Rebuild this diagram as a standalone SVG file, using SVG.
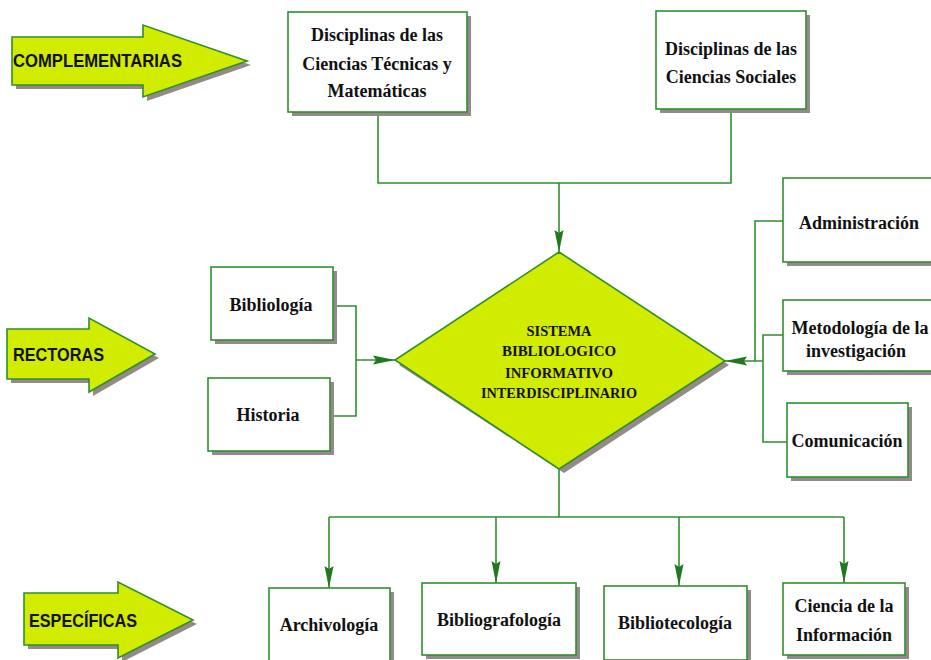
<svg xmlns="http://www.w3.org/2000/svg" width="931" height="660" viewBox="0 0 931 660">
  <defs>
    <style>
      .box { fill: #ffffff; stroke: #2f8f2f; stroke-width: 1.6; }
      .shadow { fill: #948a8a; }
      .big { fill: #d2ec00; stroke: #2f8f2f; stroke-width: 1.6; }
      .wire { fill: none; stroke: #2f8f2f; stroke-width: 1.6; }
      .lbl { font-family: "Liberation Serif", "Times New Roman", serif; font-weight: bold; font-size: 18px; fill: #111; text-anchor: middle; }
      .core { font-family: "Liberation Serif", "Times New Roman", serif; font-weight: bold; font-size: 15px; fill: #111; text-anchor: middle; }
      .tag { font-family: "Liberation Sans", Arial, sans-serif; font-weight: bold; font-size: 18px; fill: #111; }
    </style>
    <marker id="head" markerUnits="userSpaceOnUse" markerWidth="22" markerHeight="10" refX="22" refY="5" orient="auto">
      <path d="M0,0.5 L22,5 L0,9.5 L3,5 z" fill="#1f7a1f"/>
    </marker>
  </defs>

  <!-- category arrows -->
  <g id="arrow-complementarias">
    <path class="shadow" d="M16,41 H147 V29 L251,65 L147,101 V89 H16 z"/>
    <path class="big" d="M12,37 H143 V25 L247,61 L143,97 V85 H12 z"/>
    <text class="tag" x="13" y="67" textLength="169" lengthAdjust="spacingAndGlyphs">COMPLEMENTARIAS</text>
  </g>
  <g id="arrow-rectoras">
    <path class="shadow" d="M11,333 H93 V322 L159,358 L93,396 V383 H11 z"/>
    <path class="big" d="M7,329 H89 V318 L155,354 L89,392 V379 H7 z"/>
    <text class="tag" x="13" y="361" textLength="91" lengthAdjust="spacingAndGlyphs">RECTORAS</text>
  </g>
  <g id="arrow-especificas">
    <path class="shadow" d="M28,597 H122 V586 L197,624 L122,662 V649 H28 z"/>
    <path class="big" d="M24,593 H118 V582 L193,620 L118,658 V645 H24 z"/>
    <text class="tag" x="29" y="627" textLength="108" lengthAdjust="spacingAndGlyphs">ESPECÍFICAS</text>
  </g>

  <!-- connectors -->
  <g id="connectors">
    <path class="wire" d="M378,112 V183 H731 V109"/>
    <path class="wire" d="M559,183 V252" marker-end="url(#head)"/>
    <path class="wire" d="M333,306 H356 V416 H330"/>
    <path class="wire" d="M356,360 H395" marker-end="url(#head)"/>
    <path class="wire" d="M783,221 H755 V361"/>
    <path class="wire" d="M783,335 H763 V442 H787"/>
    <path class="wire" d="M763,361 H725" marker-end="url(#head)"/>
    <path class="wire" d="M559,469 V517"/>
    <path class="wire" d="M329,517 H844"/>
    <path class="wire" d="M329,517 V588" marker-end="url(#head)"/>
    <path class="wire" d="M496,517 V583" marker-end="url(#head)"/>
    <path class="wire" d="M679,517 V586" marker-end="url(#head)"/>
    <path class="wire" d="M844,517 V583" marker-end="url(#head)"/>
  </g>

  <!-- central node -->
  <g id="sistema">
    <path class="shadow" d="M564,256 L729,365 L564,473 L399,365 z"/>
    <path class="big" d="M559,252 L725,361 L559,469 L395,360 z"/>
    <text class="core" x="559" y="336" textLength="65" lengthAdjust="spacingAndGlyphs">SISTEMA</text>
    <text class="core" x="559" y="356" textLength="114" lengthAdjust="spacingAndGlyphs">BIBLIOLOGICO</text>
    <text class="core" x="559" y="378" textLength="108" lengthAdjust="spacingAndGlyphs">INFORMATIVO</text>
    <text class="core" x="559" y="398" textLength="156" lengthAdjust="spacingAndGlyphs">INTERDISCIPLINARIO</text>
  </g>

  <!-- top nodes -->
  <g id="tecnicas">
    <rect class="shadow" x="292" y="16" width="179" height="100"/>
    <rect class="box" x="288" y="12" width="179" height="100"/>
    <text class="lbl" x="377" y="41">Disciplinas de las</text>
    <text class="lbl" x="377" y="70">Ciencias Técnicas y</text>
    <text class="lbl" x="377" y="97">Matemáticas</text>
  </g>
  <g id="sociales">
    <rect class="shadow" x="660" y="15" width="150" height="98"/>
    <rect class="box" x="656" y="11" width="150" height="98"/>
    <text class="lbl" x="731" y="55">Disciplinas de las</text>
    <text class="lbl" x="731" y="83">Ciencias Sociales</text>
  </g>

  <!-- left nodes -->
  <g id="bibliologia">
    <rect class="shadow" x="215" y="271" width="122" height="73"/>
    <rect class="box" x="211" y="267" width="122" height="73"/>
    <text class="lbl" x="271" y="311">Bibliología</text>
  </g>
  <g id="historia">
    <rect class="shadow" x="212" y="382" width="122" height="73"/>
    <rect class="box" x="208" y="378" width="122" height="73"/>
    <text class="lbl" x="268" y="421">Historia</text>
  </g>

  <!-- right nodes -->
  <g id="administracion">
    <rect class="shadow" x="787" y="182" width="160" height="84"/>
    <rect class="box" x="783" y="178" width="160" height="84"/>
    <text class="lbl" x="859" y="229">Administración</text>
  </g>
  <g id="metodologia">
    <rect class="shadow" x="787" y="304" width="160" height="71"/>
    <rect class="box" x="783" y="300" width="160" height="71"/>
    <text class="lbl" x="860" y="334">Metodología de la</text>
    <text class="lbl" x="856" y="357">investigación</text>
  </g>
  <g id="comunicacion">
    <rect class="shadow" x="791" y="407" width="121" height="74"/>
    <rect class="box" x="787" y="403" width="121" height="74"/>
    <text class="lbl" x="847" y="447">Comunicación</text>
  </g>

  <!-- bottom nodes -->
  <g id="archivologia">
    <rect class="shadow" x="273" y="592" width="121" height="76"/>
    <rect class="box" x="269" y="588" width="121" height="76"/>
    <text class="lbl" x="329" y="631">Archivología</text>
  </g>
  <g id="bibliografologia">
    <rect class="shadow" x="426" y="587" width="154" height="72"/>
    <rect class="box" x="422" y="583" width="154" height="72"/>
    <text class="lbl" x="499" y="626">Bibliografología</text>
  </g>
  <g id="bibliotecologia">
    <rect class="shadow" x="608" y="590" width="143" height="74"/>
    <rect class="box" x="604" y="586" width="143" height="74"/>
    <text class="lbl" x="675" y="629">Bibliotecología</text>
  </g>
  <g id="ciencia-informacion">
    <rect class="shadow" x="787" y="587" width="122" height="72"/>
    <rect class="box" x="783" y="583" width="122" height="72"/>
    <text class="lbl" x="844" y="612">Ciencia de la</text>
    <text class="lbl" x="844" y="641">Información</text>
  </g>
</svg>
